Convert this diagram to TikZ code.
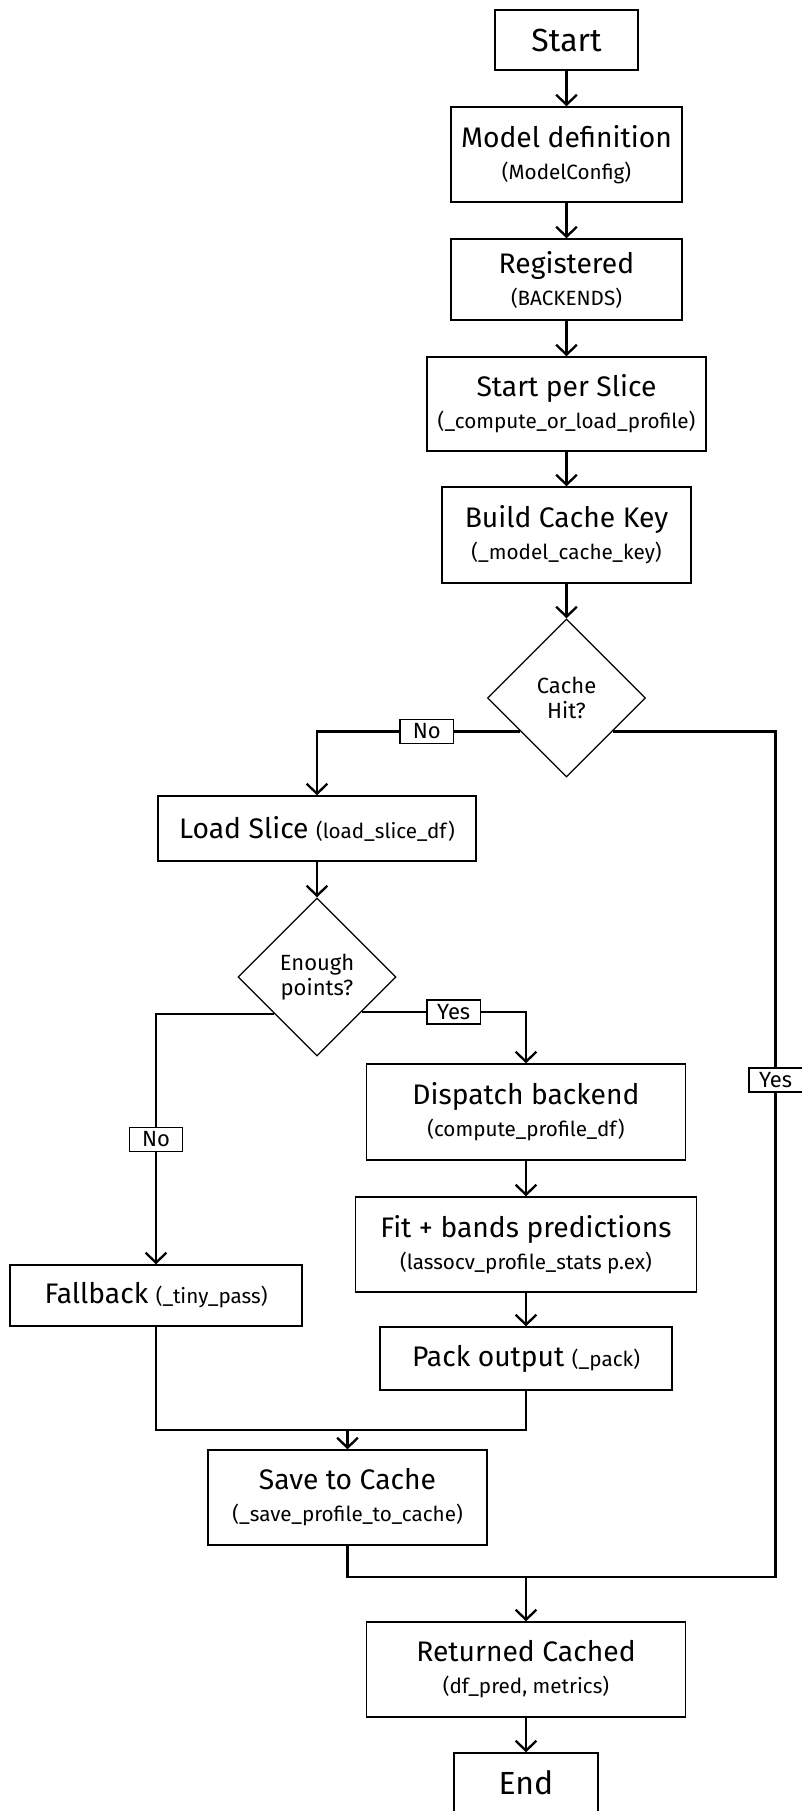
\documentclass[tikz,border=0pt]{standalone}
\usepackage{fontspec}
\setmainfont{Fira Sans}
\usetikzlibrary{shapes.geometric,arrows.meta,calc}

% type sizes for the flowchart
\newcommand\termfont{\fontsize{24}{28}\selectfont}
\newcommand\boxtitle{\fontsize{21.2}{24}\selectfont}
\newcommand\boxsub{\fontsize{15.5}{24}\selectfont}
\newcommand\decfont{\fontsize{16.5}{18.5}\selectfont}
\newcommand\lblfont{\fontsize{16.5}{18}\selectfont}

\begin{document}
\begin{tikzpicture}[x=0.75pt,y=0.75pt,
  box/.style={draw, line width=1pt, align=center, inner sep=0pt, font=\boxtitle},
  term/.style={box, font=\termfont},
  dec/.style={draw, diamond, aspect=1, line width=1pt, align=center, inner sep=0pt,
              minimum width=118.5pt, minimum height=118.5pt, font=\decfont},
  conn/.style={line width=1.75pt, -{Straight Barb[length=7.5pt,width=15.5pt]}},
  wire/.style={line width=1.75pt},
  lbl/.style={draw, fill=white, line width=1pt, font=\lblfont, inner sep=0pt,
              minimum width=40pt, minimum height=18pt},
]
\fill[white] (0,0) rectangle (801,-1811);
\useasboundingbox (0,0) rectangle (801,-1811);

% main column
\node[term, minimum width=107.25pt, minimum height=45pt]   (start) at (566.5,-40)    {Start};
\node[box, minimum width=173.25pt, minimum height=71.25pt] (model) at (566.5,-154.5) {Model definition\\{\boxsub (ModelConfig)}};
\node[box, minimum width=173.25pt, minimum height=60.75pt] (reg)   at (566.5,-279.5) {Registered\\{\boxsub (BACKENDS)}};
\node[box, minimum width=209.25pt, minimum height=70.5pt]  (slice) at (566.5,-404)   {Start per Slice\\{\boxsub (\_compute\_or\_load\_profile)}};
\node[box, minimum width=186.75pt, minimum height=72pt]    (key)   at (566.5,-535)   {Build Cache Key\\{\boxsub (\_model\_cache\_key)}};
\node[dec] (ch) at (566.5,-698) {Cache\\Hit?};

% cache miss branch
\node[box, minimum width=238.5pt, minimum height=48.75pt] (load) at (317,-828.5) {Load Slice {\boxsub (load\_slice\_df)}};
\node[dec] (ep) at (317,-977) {Enough\\points?};

\node[box, minimum width=239.25pt, minimum height=72pt]    (disp) at (526,-1112)   {Dispatch backend\\{\boxsub (compute\_profile\_df)}};
\node[box, minimum width=255.75pt, minimum height=71.25pt] (fit)  at (526,-1244.5) {Fit + bands predictions\\{\boxsub (lassocv\_profile\_stats p.ex)}};
\node[box, minimum width=219pt,    minimum height=47.25pt] (pack) at (526,-1358.5) {Pack output {\boxsub (\_pack)}};
\node[box, minimum width=219pt,    minimum height=45.75pt] (fall) at (156,-1295.5) {Fallback {\boxsub (\_tiny\_pass)}};

\node[box, minimum width=209.25pt, minimum height=71.25pt] (save) at (347.5,-1497.5) {Save to Cache\\{\boxsub (\_save\_profile\_to\_cache)}};
\node[box, minimum width=239.25pt, minimum height=71.25pt] (ret)  at (526,-1669.5)   {Returned Cached\\{\boxsub (df\_pred, metrics)}};
\node[term, minimum width=108pt,   minimum height=45pt]    (fin)  at (526,-1783)     {End};

% junction points
\coordinate (rc) at (775.6,-1577);
\coordinate (jn) at (526,-1577);
\coordinate (m2) at (526,-1430);

% straight flow
\draw[conn] (start) -- (model);
\draw[conn] (model) -- (reg);
\draw[conn] (reg) -- (slice);
\draw[conn] (slice) -- (key);
\draw[conn] (key) -- (ch);
\draw[conn] (load) -- (ep);
\draw[conn] (disp) -- (fit);
\draw[conn] (fit) -- (pack);
\draw[conn] (ret) -- (fin);

% decisions
\draw[conn] (ch.216) -| (load.north) node[lbl, pos=0.23] {No};
\draw[wire] (ch.-36) -| (rc) node[lbl, pos=0.706] {Yes} -- (jn);
\draw[conn] (ep.221) -| (fall.north) node[lbl, pos=0.75] {No};
\draw[conn] (ep.-38.5) -| (disp.north) node[lbl, pos=0.28] {Yes};

% merges
\draw[wire] (fall.south) |- (m2) -- (pack.south);
\draw[conn] (save.north |- m2) -- (save.north);
\draw[wire] (save.south) |- (jn);
\draw[conn] (jn) -- (ret.north);
\end{tikzpicture}
\end{document}
